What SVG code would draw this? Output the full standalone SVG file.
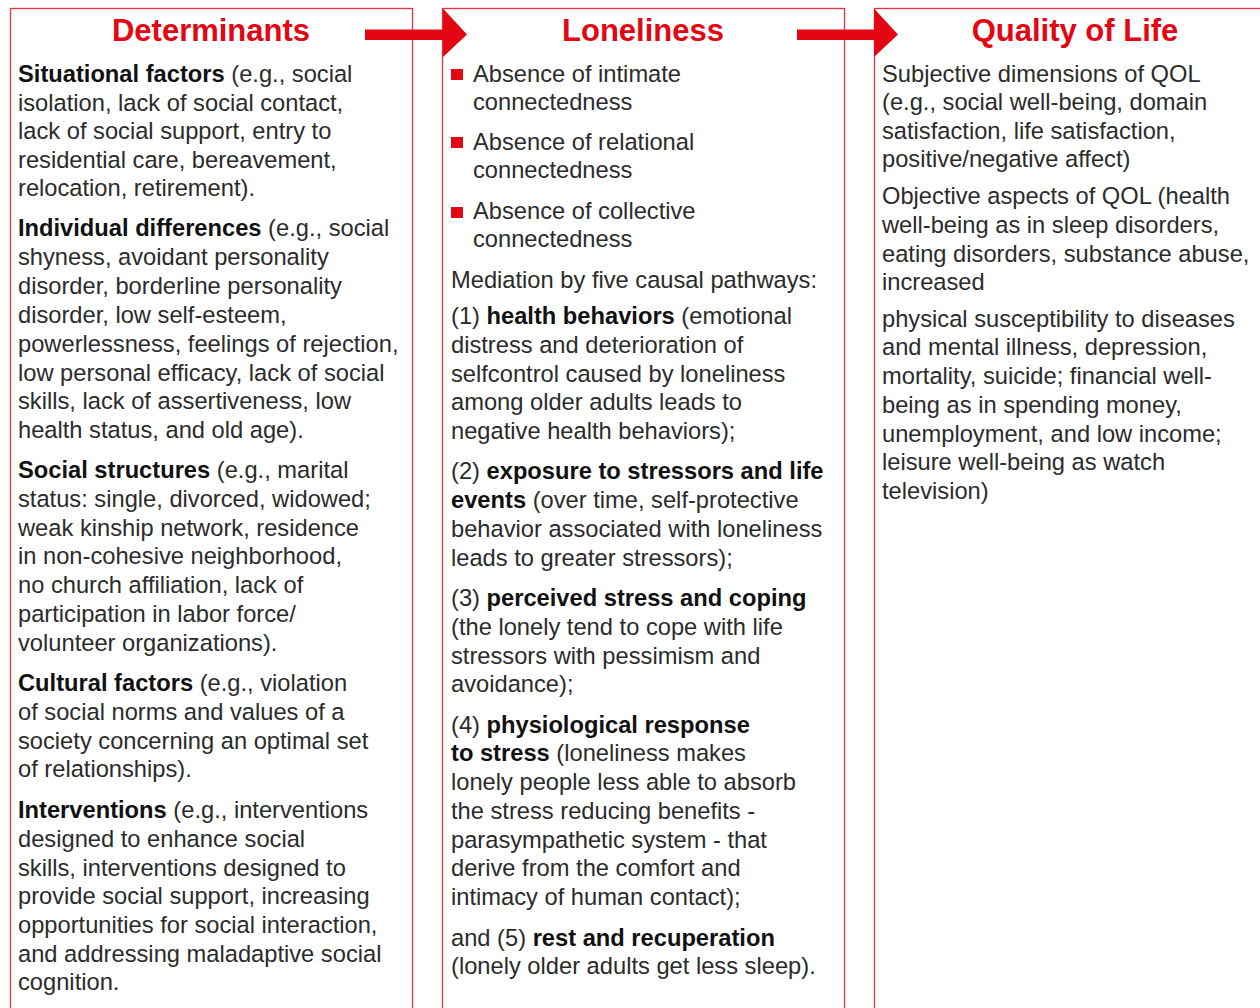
<svg xmlns="http://www.w3.org/2000/svg" width="1260" height="1008" viewBox="0 0 1260 1008">
<style>
.box{fill:none;stroke:#e8323f;stroke-width:1.3}
.title{font-family:"Liberation Sans",Arial,sans-serif;font-size:31px;font-weight:bold;fill:#e30613;text-anchor:middle}
.t{font-family:"Liberation Sans",Arial,sans-serif;font-size:23.7px;fill:#2b2b2b}
.b{font-weight:bold;fill:#111}
.arrow{fill:#e30613}
.bullet{fill:#e30613}
</style>
<rect width="1260" height="1008" fill="#fff"/>
<g id="determinants">
<rect class="box" x="10.5" y="8.5" width="402" height="1020"/>
<text class="title" x="211" y="41">Determinants</text>
<text class="t">
<tspan x="18" y="82"><tspan class="b">Situational factors</tspan> (e.g., social</tspan>
<tspan x="18" y="111">isolation, lack of social contact,</tspan>
<tspan x="18" y="139">lack of social support, entry to</tspan>
<tspan x="18" y="168">residential care, bereavement,</tspan>
<tspan x="18" y="196">relocation, retirement).</tspan>
<tspan x="18" y="236"><tspan class="b">Individual differences</tspan> (e.g., social</tspan>
<tspan x="18" y="265">shyness, avoidant personality</tspan>
<tspan x="18" y="294">disorder, borderline personality</tspan>
<tspan x="18" y="323">disorder, low self-esteem,</tspan>
<tspan x="18" y="352">powerlessness, feelings of rejection,</tspan>
<tspan x="18" y="381">low personal efficacy, lack of social</tspan>
<tspan x="18" y="409">skills, lack of assertiveness, low</tspan>
<tspan x="18" y="438">health status, and old age).</tspan>
<tspan x="18" y="478"><tspan class="b">Social structures</tspan> (e.g., marital</tspan>
<tspan x="18" y="507">status: single, divorced, widowed;</tspan>
<tspan x="18" y="536">weak kinship network, residence</tspan>
<tspan x="18" y="564">in non-cohesive neighborhood,</tspan>
<tspan x="18" y="593">no church affiliation, lack of</tspan>
<tspan x="18" y="622">participation in labor force/</tspan>
<tspan x="18" y="651">volunteer organizations).</tspan>
<tspan x="18" y="691"><tspan class="b">Cultural factors</tspan> (e.g., violation</tspan>
<tspan x="18" y="720">of social norms and values of a</tspan>
<tspan x="18" y="749">society concerning an optimal set</tspan>
<tspan x="18" y="777">of relationships).</tspan>
<tspan x="18" y="818"><tspan class="b">Interventions</tspan> (e.g., interventions</tspan>
<tspan x="18" y="847">designed to enhance social</tspan>
<tspan x="18" y="876">skills, interventions designed to</tspan>
<tspan x="18" y="904">provide social support, increasing</tspan>
<tspan x="18" y="933">opportunities for social interaction,</tspan>
<tspan x="18" y="962">and addressing maladaptive social</tspan>
<tspan x="18" y="990">cognition.</tspan>
</text>
</g>
<g id="loneliness">
<rect class="box" x="442.5" y="8.5" width="402" height="1020"/>
<text class="title" x="643" y="41">Loneliness</text>
<rect class="bullet" x="451" y="69" width="12" height="11"/>
<rect class="bullet" x="451" y="137" width="12" height="11"/>
<rect class="bullet" x="451" y="207" width="12" height="11"/>
<text class="t">
<tspan x="473" y="82">Absence of intimate</tspan>
<tspan x="473" y="110">connectedness</tspan>
<tspan x="473" y="150">Absence of relational</tspan>
<tspan x="473" y="178">connectedness</tspan>
<tspan x="473" y="219">Absence of collective</tspan>
<tspan x="473" y="247">connectedness</tspan>
<tspan x="451" y="288">Mediation by five causal pathways:</tspan>
<tspan x="451" y="324">(1) <tspan class="b">health behaviors</tspan> (emotional</tspan>
<tspan x="451" y="353">distress and deterioration of</tspan>
<tspan x="451" y="382">selfcontrol caused by loneliness</tspan>
<tspan x="451" y="410">among older adults leads to</tspan>
<tspan x="451" y="439">negative health behaviors);</tspan>
<tspan x="451" y="479">(2) <tspan class="b">exposure to stressors and life</tspan></tspan>
<tspan x="451" y="508"><tspan class="b">events</tspan> (over time, self-protective</tspan>
<tspan x="451" y="537">behavior associated with loneliness</tspan>
<tspan x="451" y="566">leads to greater stressors);</tspan>
<tspan x="451" y="606">(3) <tspan class="b">perceived stress and coping</tspan></tspan>
<tspan x="451" y="635">(the lonely tend to cope with life</tspan>
<tspan x="451" y="664">stressors with pessimism and</tspan>
<tspan x="451" y="692">avoidance);</tspan>
<tspan x="451" y="733">(4) <tspan class="b">physiological response</tspan></tspan>
<tspan x="451" y="761"><tspan class="b">to stress</tspan> (loneliness makes</tspan>
<tspan x="451" y="790">lonely people less able to absorb</tspan>
<tspan x="451" y="819">the stress reducing benefits -</tspan>
<tspan x="451" y="848">parasympathetic system - that</tspan>
<tspan x="451" y="876">derive from the comfort and</tspan>
<tspan x="451" y="905">intimacy of human contact);</tspan>
<tspan x="451" y="946">and (5) <tspan class="b">rest and recuperation</tspan></tspan>
<tspan x="451" y="974">(lonely older adults get less sleep).</tspan>
</text>
</g>
<g id="quality-of-life">
<rect class="box" x="874.5" y="8.5" width="402" height="1020"/>
<text class="title" x="1075" y="41">Quality of Life</text>
<text class="t">
<tspan x="882" y="82">Subjective dimensions of QOL</tspan>
<tspan x="882" y="110">(e.g., social well-being, domain</tspan>
<tspan x="882" y="139">satisfaction, life satisfaction,</tspan>
<tspan x="882" y="167">positive/negative affect)</tspan>
<tspan x="882" y="204">Objective aspects of QOL (health</tspan>
<tspan x="882" y="233">well-being as in sleep disorders,</tspan>
<tspan x="882" y="262">eating disorders, substance abuse,</tspan>
<tspan x="882" y="290">increased</tspan>
<tspan x="882" y="327">physical susceptibility to diseases</tspan>
<tspan x="882" y="355">and mental illness, depression,</tspan>
<tspan x="882" y="384">mortality, suicide; financial well-</tspan>
<tspan x="882" y="413">being as in spending money,</tspan>
<tspan x="882" y="442">unemployment, and low income;</tspan>
<tspan x="882" y="470">leisure well-being as watch</tspan>
<tspan x="882" y="499">television)</tspan>
</text>
</g>
<g id="connectors">
<polygon class="arrow" points="365,29.5 443,29.5 443,8.5 467,34.5 443,57 443,40 365,40"/>
<polygon class="arrow" points="797,29.5 874,29.5 874,8.5 898,34.5 874,57 874,40 797,40"/>
</g>
</svg>
